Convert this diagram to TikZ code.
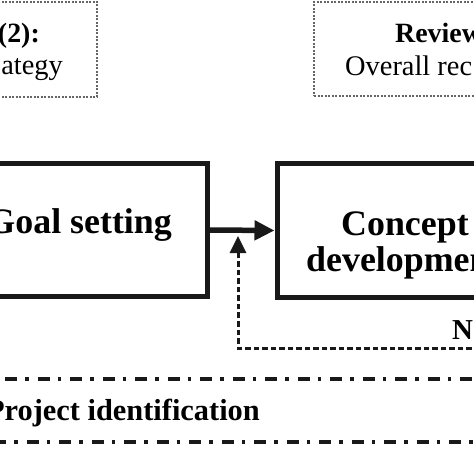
\documentclass[tikz,border=0pt]{standalone}
\usepackage{fontspec}
\setmainfont{Liberation Serif}
\usetikzlibrary{arrows.meta}
\begin{document}
\begin{tikzpicture}[x=1bp,y=-1bp,
  mainbox/.style={draw=black!90,line width=5bp,inner sep=0pt},
  notebox/.style={draw=black!60,line width=1.4bp,dash pattern=on 2bp off 1.5bp},
  bigtxt/.style={font=\fontsize{36}{38}\selectfont\bfseries,inner sep=0pt},
  midtxt/.style={font=\fontsize{28}{30}\selectfont\bfseries,inner sep=0pt},
  regtxt/.style={font=\fontsize{28.5}{30}\selectfont,inner sep=0pt},
  flow/.style={line width=5.5bp,draw=black!90,-{Triangle[length=20bp,width=19bp]}},
  back/.style={line width=3bp,draw=black!90,dash pattern=on 5.5bp off 3bp,-{Triangle[length=17bp,width=16bp]}},
  phase/.style={line width=3.2bp,draw=black!90,dash pattern=on 12bp off 8bp on 3.5bp off 9bp}]
\useasboundingbox (0,0) rectangle (474,474);
\clip (0,0) rectangle (474,474);
% top dotted note boxes
\node[notebox,minimum width=200bp,minimum height=95bp] (noteL) at (-3,49.5) {};
\node[notebox,minimum width=300bp,minimum height=94bp] (noteR) at (464,49) {};
\node[midtxt,anchor=base east] (noteLa) at (40,43) {(2):};
\node[regtxt,anchor=base east] (noteLb) at (63,75) {ategy};
\node[midtxt,anchor=base west] (noteRa) at (395,43) {Review};
\node[regtxt,anchor=base west] (noteRb) at (345,76) {Overall rec};
% main boxes
\node[mainbox,minimum width=240bp,minimum height=132bp] (goal) at (87,230) {};
\node[mainbox,minimum width=246bp,minimum height=133bp] (concept) at (400,230.5) {};
\node[bigtxt,anchor=base east] (goalt) at (172,234) {Goal setting};
\node[bigtxt,anchor=base west] (conta) at (341,236) {Concept};
\node[bigtxt,anchor=base west] (contb) at (306,271) {development};
\draw[flow] (goal.east) -- (concept.west);
% feedback
\coordinate (fbstart) at (480,348);
\coordinate (fbtip) at (238,236);
\draw[back] (fbstart) -| (fbtip);
\node[midtxt,anchor=base west,font=\fontsize{29}{30}\selectfont\bfseries] (nlab) at (452,339) {N};
% phase lines
\coordinate (p1a) at (5,379);
\coordinate (p1b) at (480,379);
\coordinate (p2a) at (-6,442);
\coordinate (p2b) at (480,442);
\draw[phase] (p1a) -- (p1b);
\draw[phase] (p2a) -- (p2b);
\node[font=\fontsize{30.5}{34}\selectfont\bfseries,inner sep=0pt,anchor=base east] (proj) at (260,420) {Project identification};
\end{tikzpicture}
\end{document}
